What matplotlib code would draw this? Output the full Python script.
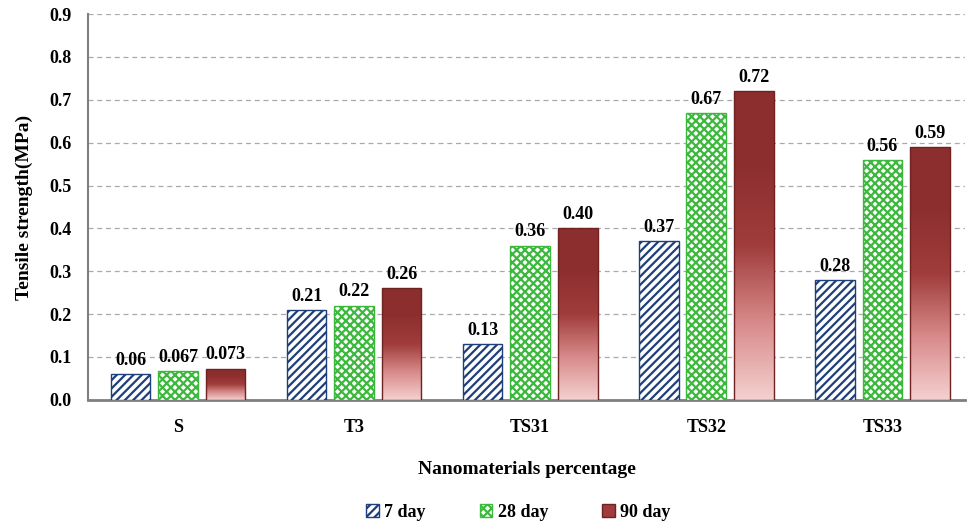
import numpy as np
import matplotlib.pyplot as plt
from matplotlib.colors import LinearSegmentedColormap
from matplotlib.patches import Patch

plt.rcParams['font.family'] = ['Liberation Serif', 'DejaVu Serif']
plt.rcParams['font.weight'] = 'bold'

# data
groups = ['S', 'T3', 'TS31', 'TS32', 'TS33']
day7 = [0.06, 0.21, 0.13, 0.37, 0.28]
day28 = [0.067, 0.22, 0.36, 0.67, 0.56]
day90 = [0.073, 0.26, 0.40, 0.72, 0.59]
lab7 = ['0.06', '0.21', '0.13', '0.37', '0.28']
lab28 = ['0.067', '0.22', '0.36', '0.67', '0.56']
lab90 = ['0.073', '0.26', '0.40', '0.72', '0.59']

fig = plt.figure(figsize=(9.69, 5.24), dpi=100)
ax = fig.add_axes([0.091, 0.237, 0.905, 0.736])

x = np.arange(len(groups))
w = 0.225
off = 0.27

plt.rcParams['hatch.linewidth'] = 1.6
b7 = ax.bar(x - off, day7, w, facecolor='white', edgecolor='#1f3f7a',
            hatch='////', linewidth=1.0, label='7 day', zorder=3)
b28 = ax.bar(x, day28, w, facecolor='white', edgecolor='#3cb83c',
             hatch='xxxx', linewidth=1.0, label='28 day', zorder=3)
b90 = ax.bar(x + off, day90, w, facecolor='#8c2e2e', edgecolor='#6e2222',
             linewidth=1.0, label='90 day', zorder=3)

# gradient fill for the 90 day bars
cmap = LinearSegmentedColormap.from_list('red', ['#f5d0d0', '#d88a8a', '#a03c3c', '#8e2f2f', '#8c2e2e'])
grad = np.linspace(0, 1, 256).reshape(-1, 1)
for r in b90:
    x0, y0 = r.get_x(), r.get_y()
    im = ax.imshow(grad, cmap=cmap, origin='lower', aspect='auto',
                   extent=[x0, x0 + r.get_width(), y0, y0 + r.get_height()], zorder=3)
    im.set_clip_path(r)
    r.set_facecolor('none')
    r.set_zorder(4)

for bars, labs in [(b7, lab7), (b28, lab28), (b90, lab90)]:
    for r, t in zip(bars, labs):
        ax.text(r.get_x() + r.get_width() / 2, r.get_height() + 0.012, t,
                ha='center', va='bottom', fontsize=13, fontweight='bold', zorder=5)

ax.set_xlim(-0.51, 4.47)
ax.set_ylim(0, 0.9)
ax.set_yticks(np.arange(0, 0.91, 0.1))
ax.set_yticklabels(['%.1f' % v for v in np.arange(0, 0.91, 0.1)], fontsize=13, fontweight='bold')
ax.set_xticks(x)
ax.set_xticklabels(groups, fontsize=13, fontweight='bold')
ax.tick_params(axis='y', length=0, pad=12)
ax.tick_params(axis='x', length=0, pad=14)
ax.yaxis.grid(True, linestyle=(0, (4, 3)), color='#aaaaaa', linewidth=0.9, zorder=0)
ax.set_axisbelow(True)

for s in ['top', 'right']:
    ax.spines[s].set_visible(False)
ax.spines['left'].set_color('#7f7f7f')
ax.spines['left'].set_linewidth(1.5)
ax.spines['bottom'].set_color('#7f7f7f')
ax.spines['bottom'].set_linewidth(2)

ax.set_ylabel('Tensile strength(MPa)', fontsize=14, fontweight='bold', labelpad=12)
ax.set_xlabel('Nanomaterials percentage', fontsize=14, fontweight='bold', labelpad=18)

h90 = Patch(facecolor='#a03c3c', edgecolor='#6e2222', label='90 day')
fig.legend(handles=[b7, b28, h90], labels=['7 day', '28 day', '90 day'],
           loc='center', bbox_to_anchor=(0.535, 0.022), ncol=3, frameon=False,
           handlelength=0.7, handleheight=0.7, columnspacing=3, handletextpad=0.3,
           prop={'weight': 'bold', 'size': 13})

fig.savefig('out.png', dpi=100)
